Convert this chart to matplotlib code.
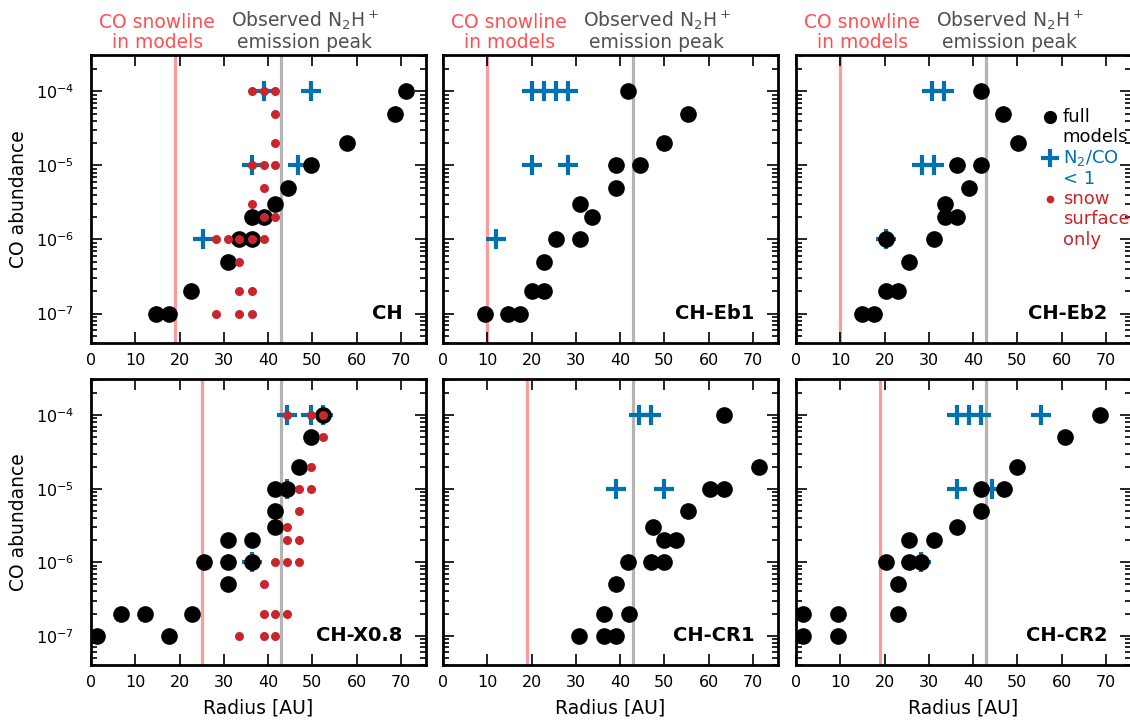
import numpy as np
import matplotlib
matplotlib.use("Agg")
import matplotlib.pyplot as plt
from matplotlib.ticker import LogLocator, MultipleLocator, NullFormatter

# CO abundance vs radius of the N2H+ peak, six model grids

# --- CH ---
ch_full_r = [14.7, 17.7, 22.7, 30.9, 33.5, 36.3, 36.3, 39.0, 41.6, 44.6, 49.8, 57.8, 68.7, 71.2]
ch_full_co = [1e-7, 1e-7, 2e-7, 5e-7, 1e-6, 1e-6, 2e-6, 2e-6, 3e-6, 5e-6, 1e-5, 2e-5, 5e-5, 1e-4]
ch_n2_r = [39.0, 49.8, 36.3, 46.7, 25.2]
ch_n2_co = [1e-4, 1e-4, 1e-5, 1e-5, 1e-6]
ch_snow_r = [36.3, 39.0, 41.6, 41.6, 41.6, 36.3, 39.0, 41.6, 39.0, 36.3, 39.0, 41.6,
             28.2, 30.9, 33.5, 36.3, 39.0, 33.5, 33.5, 36.3, 28.2, 33.5, 36.3]
ch_snow_co = [1e-4, 1e-4, 1e-4, 5e-5, 2e-5, 1e-5, 1e-5, 1e-5, 5e-6, 3e-6, 2e-6, 2e-6,
              1e-6, 1e-6, 1e-6, 1e-6, 1e-6, 5e-7, 2e-7, 2e-7, 1e-7, 1e-7, 1e-7]

# --- CH-Eb1 ---
eb1_full_r = [9.4, 14.8, 17.5, 20.1, 22.9, 22.9, 25.6, 30.9, 33.6, 30.9, 39.1, 39.1, 44.6, 49.9, 55.3, 41.8]
eb1_full_co = [1e-7, 1e-7, 1e-7, 2e-7, 2e-7, 5e-7, 1e-6, 1e-6, 2e-6, 3e-6, 5e-6, 1e-5, 1e-5, 2e-5, 5e-5, 1e-4]
eb1_n2_r = [20.1, 22.8, 25.6, 28.2, 20.1, 28.2, 12.0]
eb1_n2_co = [1e-4, 1e-4, 1e-4, 1e-4, 1e-5, 1e-5, 1e-6]
eb1_snow_r = []
eb1_snow_co = []

# --- CH-Eb2 ---
eb2_full_r = [14.9, 17.6, 20.4, 23.0, 25.6, 20.4, 31.1, 33.7, 36.4, 33.7, 39.2, 36.4, 41.8, 50.1, 46.7, 41.8]
eb2_full_co = [1e-7, 1e-7, 2e-7, 2e-7, 5e-7, 1e-6, 1e-6, 2e-6, 2e-6, 3e-6, 5e-6, 1e-5, 1e-5, 2e-5, 5e-5, 1e-4]
eb2_n2_r = [30.8, 33.5, 28.4, 31.1, 20.4]
eb2_n2_co = [1e-4, 1e-4, 1e-5, 1e-5, 1e-6]
eb2_snow_r = []
eb2_snow_co = []

# --- CH-X0.8 ---
x08_full_r = [1.4, 6.7, 12.1, 17.6, 22.8, 25.5, 30.9, 30.9, 30.9, 36.3, 36.3, 41.6, 41.6, 41.6,
              44.4, 47.1, 49.7, 52.4]
x08_full_co = [1e-7, 2e-7, 2e-7, 1e-7, 2e-7, 1e-6, 1e-6, 2e-6, 5e-7, 2e-6, 1e-6, 1e-5, 5e-6, 3e-6,
               1e-5, 2e-5, 5e-5, 1e-4]
x08_n2_r = [44.4, 49.7, 52.4, 44.4, 36.3]
x08_n2_co = [1e-4, 1e-4, 1e-4, 1e-5, 1e-6]
x08_snow_r = [44.4, 49.7, 52.4, 52.4, 49.7, 47.1, 49.7, 47.1, 44.4, 44.4, 47.1, 41.6, 44.4, 47.1,
              39.0, 39.0, 41.6, 44.4, 33.5, 39.0, 41.6]
x08_snow_co = [1e-4, 1e-4, 1e-4, 5e-5, 2e-5, 1e-5, 1e-5, 5e-6, 3e-6, 2e-6, 2e-6, 1e-6, 1e-6, 1e-6,
               5e-7, 2e-7, 2e-7, 2e-7, 1e-7, 1e-7, 1e-7]

# --- CH-CR1 ---
cr1_full_r = [30.8, 36.4, 39.1, 36.4, 42.0, 39.1, 41.8, 47.1, 49.9, 49.9, 52.7, 47.4, 55.3, 60.4, 63.5, 71.5, 63.5]
cr1_full_co = [1e-7, 1e-7, 1e-7, 2e-7, 2e-7, 5e-7, 1e-6, 1e-6, 1e-6, 2e-6, 2e-6, 3e-6, 5e-6, 1e-5, 1e-5, 2e-5, 1e-4]
cr1_n2_r = [44.4, 47.0, 39.1, 49.9]
cr1_n2_co = [1e-4, 1e-4, 1e-5, 1e-5]
cr1_snow_r = []
cr1_snow_co = []

# --- CH-CR2 ---
cr2_full_r = [1.6, 1.6, 9.5, 9.5, 23.0, 23.0, 20.4, 25.6, 28.3, 25.6, 31.1, 36.4, 41.8, 41.8, 47.1, 49.9, 60.8, 68.7]
cr2_full_co = [1e-7, 2e-7, 1e-7, 2e-7, 2e-7, 5e-7, 1e-6, 1e-6, 1e-6, 2e-6, 2e-6, 3e-6, 5e-6, 1e-5, 1e-5, 2e-5, 5e-5, 1e-4]
cr2_n2_r = [36.4, 39.2, 41.8, 55.3, 36.4, 44.4, 28.3]
cr2_n2_co = [1e-4, 1e-4, 1e-4, 1e-4, 1e-5, 1e-5, 1e-6]
cr2_snow_r = []
cr2_snow_co = []

panel_names = ["CH", "CH-Eb1", "CH-Eb2", "CH-X0.8", "CH-CR1", "CH-CR2"]
snowline_r = [19, 10, 10, 25, 19, 19]
n2h_peak_r = 43

panels = [
    (ch_full_r, ch_full_co, ch_n2_r, ch_n2_co, ch_snow_r, ch_snow_co),
    (eb1_full_r, eb1_full_co, eb1_n2_r, eb1_n2_co, eb1_snow_r, eb1_snow_co),
    (eb2_full_r, eb2_full_co, eb2_n2_r, eb2_n2_co, eb2_snow_r, eb2_snow_co),
    (x08_full_r, x08_full_co, x08_n2_r, x08_n2_co, x08_snow_r, x08_snow_co),
    (cr1_full_r, cr1_full_co, cr1_n2_r, cr1_n2_co, cr1_snow_r, cr1_snow_co),
    (cr2_full_r, cr2_full_co, cr2_n2_r, cr2_n2_co, cr2_snow_r, cr2_snow_co),
]

blue = "#0072b2"
red = "#c8262a"
snow_col = "#ff9a9a"
snow_txt = "#ff5050"
peak_col = "#b4b4b4"
peak_txt = "#505050"

fig = plt.figure(figsize=(11.3, 7.21), dpi=100)
W, H = 1130.0, 721.0
col_left = [91, 443, 796]
row_top = [55, 379]
ax_w = 335
ax_h = [288, 286]

for i in range(6):
    row, col = i // 3, i % 3
    left = col_left[col] / W
    bottom = (H - row_top[row] - ax_h[row]) / H
    ax = fig.add_axes([left, bottom, ax_w / W, ax_h[row] / H])
    full_r, full_co, n2_r, n2_co, snow_r, snow_co = panels[i]

    ax.axvline(snowline_r[i], color=snow_col, lw=2.3, zorder=1)
    ax.axvline(n2h_peak_r, color=peak_col, lw=2.3, zorder=1)

    ax.plot(n2_r, n2_co, ls="none", marker="+", ms=15, mew=3, color=blue, zorder=3)
    ax.plot(full_r, full_co, ls="none", marker="o", ms=12, color="k", mec="none", zorder=4)
    if len(snow_r):
        ax.plot(snow_r, snow_co, ls="none", marker="o", ms=6.5, color=red, mec="none", zorder=5)

    ax.set_yscale("log")
    ax.set_xlim(0, 75.7)
    ax.set_ylim(4e-8, 3.1e-4)
    ax.xaxis.set_major_locator(MultipleLocator(10))
    ax.yaxis.set_major_locator(LogLocator(base=10, numticks=10))
    ax.yaxis.set_minor_locator(LogLocator(base=10, subs=np.arange(2, 10), numticks=10))
    ax.yaxis.set_minor_formatter(NullFormatter())
    ax.tick_params(which="both", direction="in", top=True, right=True, width=1.2)
    ax.tick_params(which="major", length=8)
    ax.tick_params(which="minor", length=4)
    ax.tick_params(axis="x", labelsize=11.5, pad=7)
    ax.tick_params(axis="y", labelsize=11.5, pad=12)
    for s in ax.spines.values():
        s.set_linewidth(2)

    if col == 0:
        ax.set_ylabel("CO abundance", fontsize=13.5, labelpad=6)
    else:
        ax.set_yticklabels([])
    if row == 1:
        ax.set_xlabel("Radius [AU]", fontsize=13.5, labelpad=6)

    ax.text(0.93, 0.104, panel_names[i], transform=ax.transAxes, ha="right", va="center",
            fontsize=14, fontweight="bold")

    if row == 0:
        ax.text(0.198, 1.012, "CO snowline\nin models", transform=ax.transAxes, ha="center",
                va="bottom", fontsize=13.5, color=snow_txt, linespacing=1.05)
        ax.text(0.637, 1.012, "Observed N$_2$H$^+$\nemission peak", transform=ax.transAxes,
                ha="center", va="bottom", fontsize=13.5, color=peak_txt, linespacing=1.05)

    if i == 2:
        step = 20.5 / ax_h[row]
        y0 = 1 - (117 - 55) / ax_h[row]
        hx = 0.757
        tx = 0.796
        ax.plot([hx], [y0], transform=ax.transAxes, marker="o", ms=9.5, color="k", mec="none",
                ls="none", clip_on=False, zorder=6)
        ax.plot([hx], [y0 - 2 * step], transform=ax.transAxes, marker="+", ms=12.5, mew=3,
                color=blue, ls="none", clip_on=False, zorder=6)
        ax.plot([hx], [y0 - 4 * step], transform=ax.transAxes, marker="o", ms=5.5, color=red,
                mec="none", ls="none", clip_on=False, zorder=6)
        labels = ["full", "models", "N$_2$/CO", "< 1", "snow", "surface", "only"]
        colors = ["k", "k", blue, blue, red, red, red]
        for k in range(7):
            ax.text(tx, y0 - k * step, labels[k], transform=ax.transAxes, ha="left",
                    va="center", fontsize=13, color=colors[k], zorder=6)

fig.savefig("out.png", dpi=100)
